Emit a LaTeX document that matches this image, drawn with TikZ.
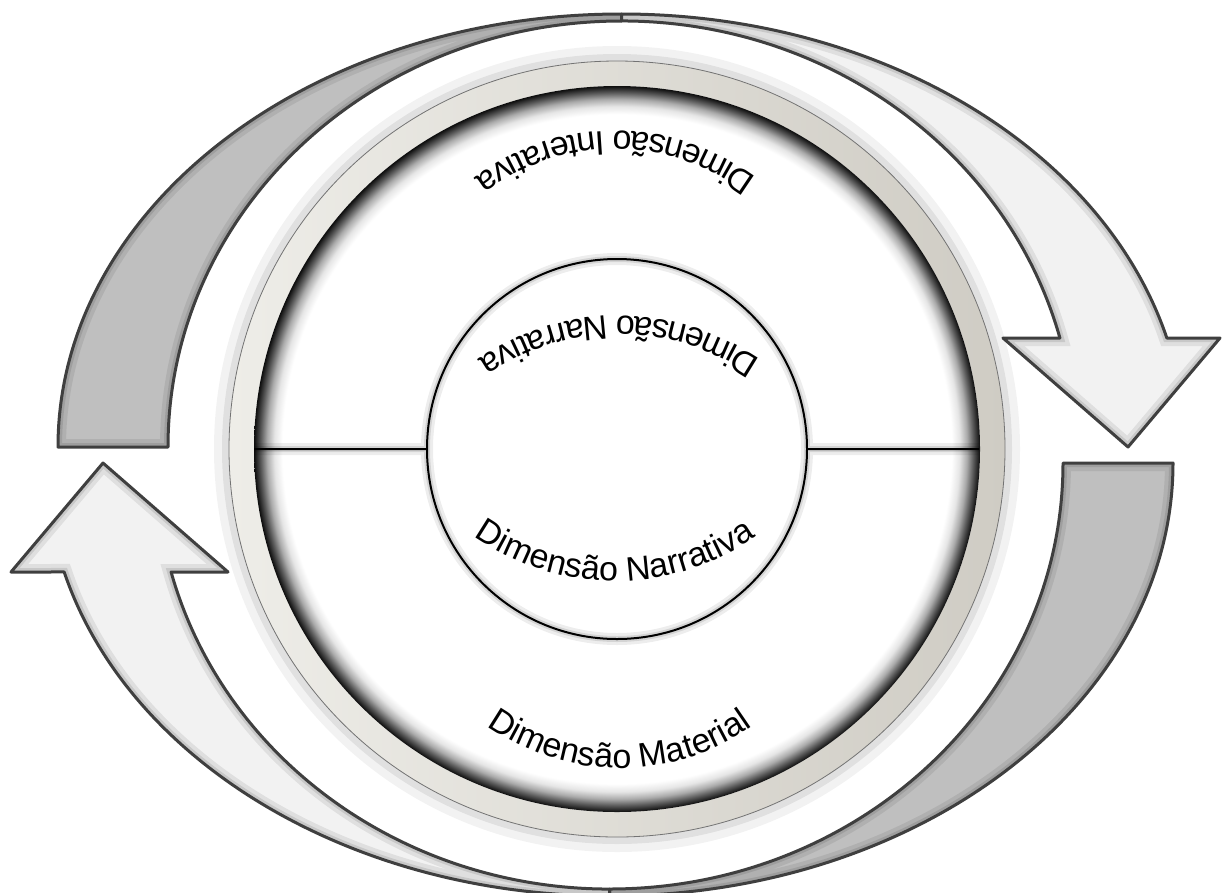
\documentclass[tikz,border=0pt]{standalone}
\usepackage{fontspec}
\newfontfamily\arcfont{Liberation Sans}
\usetikzlibrary{decorations.text}
\definecolor{edgegray}{HTML}{3F3F3F}
\definecolor{darkband}{HTML}{BFBFBF}
\definecolor{lightband}{HTML}{F2F2F2}
\definecolor{ringL}{HTML}{EEEDE8}
\definecolor{ringR}{HTML}{CFCCC4}
\pgfdeclareradialshading{ringshadow}{\pgfpointorigin}{color(0bp)=(white); color(23.05bp)=(white); color(23.6bp)=(black!10); color(24.1bp)=(black!33); color(24.55bp)=(black!65); color(25bp)=(black!95); color(50bp)=(black!95)}
\newcommand\arrLight{(0,433) arc[start angle=90, end angle=14.58, x radius=563.5, y radius=433] -- (598.5,109) -- (506.5,0) -- (381.5,109) -- (438.4,109) arc[start angle=14.82, end angle=90, x radius=453.5, y radius=426] -- cycle}
\newcommand\arrDark{(0,433) arc[start angle=90, end angle=180, x radius=563.5, y radius=433] -- (-453.5,0) arc[start angle=180, end angle=90, x radius=453.5, y radius=426] -- cycle}
\newcommand\bandshape[2]{%
  \begin{scope}
    \clip #1;
    \fill[#2] #1;
    \draw[black, opacity=0.08, line width=16] #1;
    \draw[black, opacity=0.10, line width=8] #1;
  \end{scope}
  \draw[edgegray, line width=3, line join=round] #1;
}
\newcommand\archfont{\arcfont\fontsize{34}{34}\selectfont}
\tikzset{
  arctext/.style={decorate, decoration={text along path, text align=center, text={|\archfont|#1}}},
  glowline/.style={black, opacity=0.07, line width=12},
  glowline2/.style={black, opacity=0.10, line width=6},
  mainline/.style={black, line width=2}
}
\begin{document}
\begin{tikzpicture}[x=1pt, y=1pt]
  \useasboundingbox (0,0) rectangle (1222,-892);
  \fill[white] (0,0) rectangle (1222,-892);
  % circular arrows
  \begin{scope}[shift={(621.5,-447)}]
    \bandshape{\arrDark}{darkband}
    \bandshape{\arrLight}{lightband}
  \end{scope}
  \begin{scope}[shift={(609.5,-463)}, rotate=180]
    \bandshape{\arrDark}{darkband}
    \bandshape{\arrLight}{lightband}
  \end{scope}
  % ring
  \coordinate (C) at (617,-449);
  \draw[black, opacity=0.05, line width=18] (C) circle (394);
  \draw[black, opacity=0.07, line width=8] (C) circle (391);
  \shade[even odd rule, left color=ringL, right color=ringR] (C) circle (388) (C) circle (363);
  % inner shadow of the ring
  \shade[shading=ringshadow] (C) circle (363);
  \draw[black!55, line width=0.8] (C) circle (388);
  % inner circle and lines
  \coordinate (L1) at (254,-449);
  \coordinate (L2) at (427,-449);
  \coordinate (R1) at (807,-449);
  \coordinate (R2) at (979,-449);
  \draw[glowline] (L1) -- (L2) (R1) -- (R2) (C) circle (190);
  \draw[glowline2] (L1) -- (L2) (R1) -- (R2) (C) circle (190);
  \draw[mainline] (L1) -- (L2) (R1) -- (R2) (C) circle (190);
  % texts
  \path[arctext={Dimensão Interativa}] ([shift={(30:234)}]615,-365) arc[start angle=30, end angle=150, radius=234];
  \path[arctext={Dimensão Narrativa}] ([shift={(30:250)}]619,-566) arc[start angle=30, end angle=150, radius=250];
  \path[arctext={Dimensão Narrativa}] ([shift={(210:246)}]615,-335) arc[start angle=210, end angle=330, radius=246];
  \path[arctext={Dimensão Material}] ([shift={(210:230)}]620,-538) arc[start angle=210, end angle=330, radius=230];
\end{tikzpicture}
\end{document}
